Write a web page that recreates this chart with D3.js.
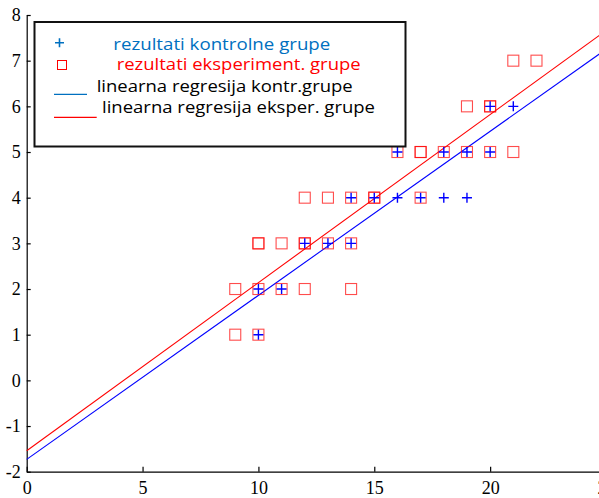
<!DOCTYPE html>
<html>
<head>
<meta charset="utf-8">
<script src="https://cdnjs.cloudflare.com/ajax/libs/d3/7.8.5/d3.min.js"></script>
<style>
  body { margin: 0; background: #fff; }
  .axis text { font-family: "Liberation Serif", "Times New Roman", serif; font-size: 18px; fill: #000; }
  .axis path, .axis line { stroke: #000; stroke-width: 1.2px; }
  .leg { font-family: "Open Sans", sans-serif; font-size: 17px; }
</style>
</head>
<body>
<svg width="599" height="498"></svg>
<script>
// control group results (blue +)
const kontrolX = [10, 10, 11, 12, 13, 14, 14, 15, 16, 17, 18, 19, 16, 18, 19, 20, 20, 21];
const kontrolY = [1, 2, 2, 3, 3, 3, 4, 4, 4, 4, 4, 4, 5, 5, 5, 5, 6, 6];

// experimental group results (red squares), repeats = overlapping results
const eksperX = [9, 10, 9, 10, 11, 12, 14, 10, 10, 11, 12, 12, 13, 14, 12, 13, 14, 15, 15, 17, 16, 17, 17, 18, 19, 20, 21, 19, 20, 20, 21, 22];
const eksperY = [1, 1, 2, 2, 2, 2, 2, 3, 3, 3, 3, 3, 3, 3, 4, 4, 4, 4, 4, 4, 5, 5, 5, 5, 5, 5, 5, 6, 6, 6, 7, 7];

// regression lines, read at the ends of the x range
const regX = [0, 25];
const regKontrY = [-1.73, 7.25];
const regEksperY = [-1.54, 7.66];

const xTicks = [0, 5, 10, 15, 20, 25];
const yTicks = [-2, -1, 0, 1, 2, 3, 4, 5, 6, 7, 8];

const legendItems = [
  { text: "rezultati kontrolne grupe", color: "#0070C0" },
  { text: "rezultati eksperiment. grupe", color: "#FF0000" },
  { text: "linearna regresija kontr.grupe", color: "#000" },
  { text: "linearna regresija eksper. grupe", color: "#000" }
];

const svg = d3.select("svg");

const x = d3.scaleLinear().domain([0, 25]).range([26.7, 606]);
const y = d3.scaleLinear().domain([-2, 8]).range([471.7, 15]);

// axes, ticks pointing into the plot, plain hyphen for negatives
svg.append("g").attr("class", "axis")
  .attr("transform", "translate(0,471.7)")
  .call(d3.axisBottom(x).tickValues(xTicks).tickFormat(d => String(d))
    .tickSize(-5).tickSizeOuter(0).tickPadding(10));

svg.append("g").attr("class", "axis")
  .attr("transform", "translate(26.7,0)")
  .call(d3.axisLeft(y).tickValues(yTicks).tickFormat(d => String(d))
    .tickSize(-4).tickSizeOuter(0).tickPadding(6));

// regression lines
const line = d3.line().x(d => x(d[0])).y(d => y(d[1]));
svg.append("path")
  .datum(d3.zip(regX, regKontrY))
  .attr("d", line).attr("fill", "none").attr("stroke", "#0000FF").attr("stroke-width", 1.1);
svg.append("path")
  .datum(d3.zip(regX, regEksperY))
  .attr("d", line).attr("fill", "none").attr("stroke", "#FF0000").attr("stroke-width", 1.1);

// red squares
svg.append("g").selectAll("rect")
  .data(d3.zip(eksperX, eksperY))
  .enter().append("rect")
  .attr("x", d => x(d[0]) - 5.5)
  .attr("y", d => y(d[1]) - 5.5)
  .attr("width", 11).attr("height", 11)
  .attr("fill", "none").attr("stroke", "#FF0000").attr("stroke-width", 1.1)
  .attr("stroke-opacity", 0.7);

// blue crosses
svg.append("g").selectAll("path")
  .data(d3.zip(kontrolX, kontrolY))
  .enter().append("path")
  .attr("transform", d => `translate(${x(d[0])},${y(d[1])})`)
  .attr("d", "M-5,0H5M0,-5V5")
  .attr("stroke", "#0000FF").attr("stroke-width", 1.4);

// legend
const leg = svg.append("g");
leg.append("rect")
  .attr("x", 34.5).attr("y", 22).attr("width", 371).attr("height", 124.5)
  .attr("fill", "#fff").attr("stroke", "#111").attr("stroke-width", 2);

leg.append("path").attr("d", "M55,42.7H64M59.5,38.2V47.2")
  .attr("stroke", "#0070C0").attr("stroke-width", 1.6);
leg.append("rect").attr("x", 57.5).attr("y", 60.5).attr("width", 9).attr("height", 9)
  .attr("fill", "none").attr("stroke", "#FF0000").attr("stroke-width", 1);
leg.append("line").attr("x1", 54).attr("x2", 87).attr("y1", 94.3).attr("y2", 94.3)
  .attr("stroke", "#0070C0").attr("stroke-width", 1.2);
leg.append("line").attr("x1", 54).attr("x2", 96.7).attr("y1", 117.3).attr("y2", 117.3)
  .attr("stroke", "#FF0000").attr("stroke-width", 1.2);

const legPos = [[113.3, 49.5, 217], [116.7, 70, 244], [96.7, 91.7, 256], [102, 113.3, 273]];
leg.selectAll("text.leg")
  .data(legendItems)
  .enter().append("text")
  .attr("class", "leg")
  .attr("x", (d, i) => legPos[i][0])
  .attr("y", (d, i) => legPos[i][1])
  .attr("textLength", (d, i) => legPos[i][2])
  .attr("lengthAdjust", "spacingAndGlyphs")
  .attr("fill", d => d.color)
  .text(d => d.text);
</script>
</body>
</html>
